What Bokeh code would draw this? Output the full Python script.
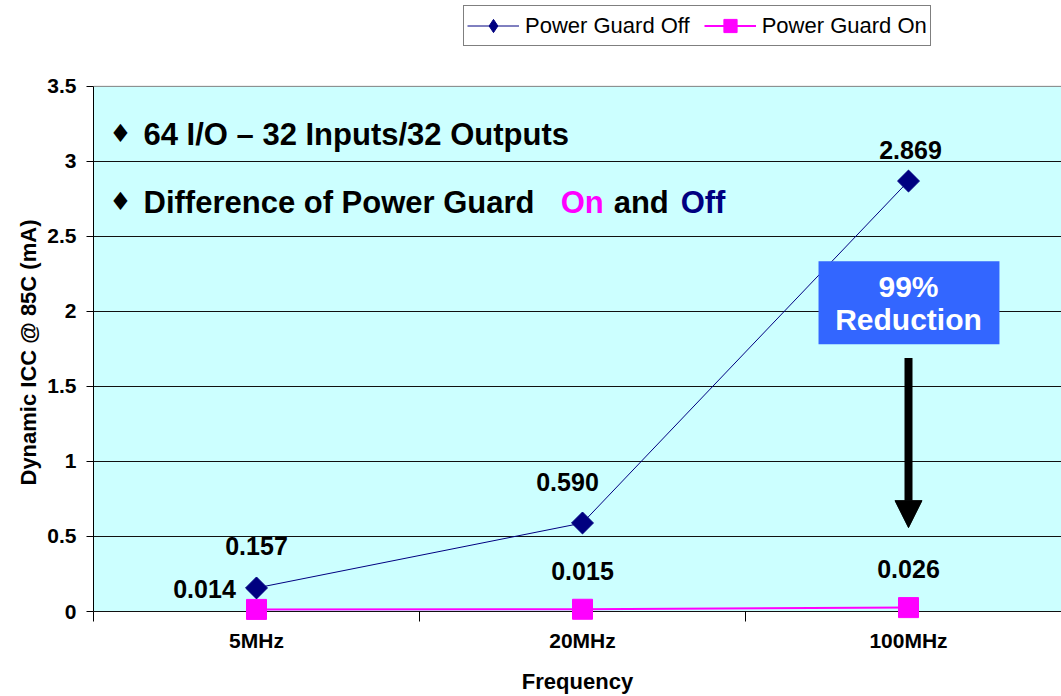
from bokeh.plotting import figure
from bokeh.models import (Range1d, FixedTicker, ColumnDataSource, Legend, LegendItem,
                          Label, BoxAnnotation, Arrow, NormalHead, Span, Title)
from bokeh.core.properties import value
from bokeh.embed import file_html
from bokeh.resources import INLINE

# ---- data ----
categories = ["5MHz", "20MHz", "100MHz"]
guard_off = [0.157, 0.590, 2.869]
guard_on = [0.014, 0.015, 0.026]
off_labels = ["0.157", "0.590", "2.869"]
on_labels = ["0.014", "0.015", "0.026"]
y_ticks = [0, 0.5, 1, 1.5, 2, 2.5, 3, 3.5]
reduction_text = ["99%", "Reduction"]

# ---- layout (pixel offsets of value labels, not data; negative = up) ----
off_dx = [0, -15, 2]
off_dy = [-42, -41, -31]
on_dx = [-52, 0, 0]
on_dy = [-20, -38, -39]

FONT = "Liberation Sans"
NAVY = "#000080"
MAGENTA = "#FF00FF"

xs = list(range(len(categories)))

Y_MAX = y_ticks[-1]
PX = 526 / Y_MAX        # pixels per y unit
pad = 10 / PX           # room below zero so markers are not clipped
top = 612 / PX          # frame reaches the top of the canvas (legend lives there)

p = figure(width=1061, height=696, output_backend="svg", toolbar_location=None,
           x_range=Range1d(-0.5, -0.5 + 968 / 326.0), y_range=Range1d(-pad, top),
           min_border_left=93, min_border_right=0, min_border_top=0, min_border_bottom=74,
           background_fill_color="white", border_fill_color="white")

p.outline_line_color = None
p.xgrid.visible = False
p.ygrid.ticker = FixedTicker(ticks=[t for t in y_ticks if t < Y_MAX])
p.ygrid.grid_line_color = "#111111"
p.ygrid.grid_line_width = 1

# plot area (cyan) from 0 to the top tick, under the grid
plot_area = BoxAnnotation(bottom=0, top=Y_MAX, fill_color="#CCFFFF", fill_alpha=1.0,
                          line_color=None, level="underlay")
p.center = [plot_area] + list(p.center)
p.add_layout(Span(location=Y_MAX, dimension="width", line_color="#808080", line_width=1,
                  level="underlay"))

# x axis
xa = p.xaxis[0]
xa.ticker = FixedTicker(ticks=xs, minor_ticks=[i - 0.5 for i in range(len(categories) + 1)])
xa.major_label_overrides = {i: c for i, c in zip(xs, categories)}
xa.major_tick_line_color = None
xa.major_tick_out = 0
xa.major_tick_in = 0
xa.minor_tick_out = 0
xa.minor_tick_in = 10
xa.minor_tick_line_color = "black"
xa.axis_line_color = None
xa.major_label_text_font = FONT
xa.major_label_text_font_style = "bold"
xa.major_label_text_font_size = "21px"
xa.major_label_text_color = "black"
xa.major_label_standoff = 7
xa.axis_label = "Frequency"
xa.axis_label_text_font = FONT
xa.axis_label_text_font_style = "bold"
xa.axis_label_text_font_size = "22px"
xa.axis_label_text_color = "black"
xa.axis_label_standoff = 14

# y axis
ya = p.yaxis[0]
ya.ticker = FixedTicker(ticks=y_ticks)
ya.bounds = (0, Y_MAX)
ya.major_label_overrides = {t: f"{t:g}" for t in y_ticks}
ya.major_tick_out = 7
ya.major_tick_in = 0
ya.minor_tick_line_color = None
ya.axis_line_color = "black"
ya.major_tick_line_color = "black"
ya.major_label_text_font = FONT
ya.major_label_text_font_style = "bold"
ya.major_label_text_font_size = "21px"
ya.major_label_text_color = "black"
ya.major_label_standoff = 10

# y-axis title, centred on the 0..3.5 plot area
p.add_layout(Title(text="Dynamic ICC @ 85C (mA)", align="left", offset=136,
                   text_font=FONT, text_font_style="bold", text_font_size="22px",
                   text_color="black", standoff=8), "left")

# series
on_line = p.line(xs, guard_on, line_color=MAGENTA, line_width=2)
on_pts = p.scatter(xs, guard_on, marker="square", size=20,
                   fill_color=MAGENTA, line_color=MAGENTA)
off_line = p.line(xs, guard_off, line_color=NAVY, line_width=1)
off_diamond = p.scatter(xs, guard_off, marker="diamond", size=20,
                        fill_color=NAVY, line_color=NAVY)
off_pts = p.scatter(xs, guard_off, marker="square", size=15.5, angle=0.785398,
                    fill_color=NAVY, line_color=NAVY)

# value labels
off_src = ColumnDataSource(dict(x=xs, y=guard_off, t=off_labels, dx=off_dx, dy=off_dy))
on_src = ColumnDataSource(dict(x=xs, y=guard_on, t=on_labels, dx=on_dx, dy=on_dy))
for src in (off_src, on_src):
    p.text(x="x", y="y", text="t", x_offset="dx", y_offset="dy", source=src,
           text_font=value(FONT), text_font_style="bold", text_font_size="25px",
           text_color="black", text_align="center", text_baseline="alphabetic")

# bullet text
txt = dict(text_font=FONT, text_font_style="bold", text_font_size="31px",
           text_baseline="alphabetic", text_align="left")
for by in (3.187, 2.735):
    p.add_layout(Label(x=-0.417, y=by, text="\u2666", text_font="DejaVu Sans",
                       text_font_size="25px", text_baseline="middle", text_align="center",
                       text_color="black"))
p.add_layout(Label(x=-0.3466, y=3.181, text="64 I/O \u2013 32 Inputs/32 Outputs",
                   text_color="black", **txt))
p.add_layout(Label(x=-0.3466, y=2.729, text="Difference of Power Guard",
                   text_color="black", **txt))
p.add_layout(Label(x=0.933, y=2.729, text="On", text_color=MAGENTA, **txt))
p.add_layout(Label(x=1.0956, y=2.729, text="and", text_color="black", **txt))
p.add_layout(Label(x=1.301, y=2.729, text="Off", text_color=NAVY, **txt))

# reduction callout
p.add_layout(BoxAnnotation(left=1.724, right=2.279, top=2.335, bottom=1.782,
                           fill_color="#3366FF", fill_alpha=1.0, line_color=None))
p.add_layout(Label(x=2.0, y=2.163, text=reduction_text[0], text_color="white",
                   text_font=FONT, text_font_style="bold", text_font_size="30px",
                   text_align="center", text_baseline="alphabetic"))
p.add_layout(Label(x=2.0, y=1.943, text=reduction_text[1], text_color="white",
                   text_font=FONT, text_font_style="bold", text_font_size="30px",
                   text_align="center", text_baseline="alphabetic"))
p.add_layout(Arrow(end=NormalHead(size=27, fill_color="black", line_color="black"),
                   x_start=2.0, y_start=1.69, x_end=2.0, y_end=0.559,
                   line_color="black", line_width=8))

# legend above the plot area (frame extends up to the canvas top)
legend = Legend(items=[LegendItem(label="Power Guard Off", renderers=[off_line, off_diamond]),
                       LegendItem(label="Power Guard On", renderers=[on_line, on_pts])],
                orientation="horizontal", location=(370, 575),
                glyph_width=52, glyph_height=33, label_standoff=6, spacing=14,
                padding=3, margin=0, border_line_color="black", border_line_width=1,
                background_fill_color="white", background_fill_alpha=1.0,
                label_text_font=FONT, label_text_font_size="22px", label_text_color="black")
p.add_layout(legend)

open("out.html", "w").write(file_html(p, INLINE))
